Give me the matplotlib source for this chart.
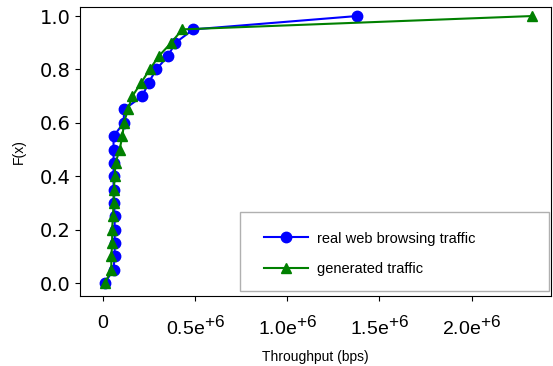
import matplotlib
matplotlib.use("Agg")
import matplotlib.pyplot as plt
from matplotlib.patches import Rectangle
import matplotlib._mathtext as mathtext_internals

# CDF levels
cdf = [0.0, 0.05, 0.10, 0.15, 0.20, 0.25, 0.30, 0.35, 0.40, 0.45, 0.50,
       0.55, 0.60, 0.65, 0.70, 0.75, 0.80, 0.85, 0.90, 0.95, 1.0]

# throughput values (bps)
real_tp = [0.009e6, 0.057e6, 0.063e6, 0.063e6, 0.063e6, 0.063e6, 0.059e6,
           0.057e6, 0.057e6, 0.057e6, 0.057e6, 0.057e6, 0.112e6, 0.114e6,
           0.213e6, 0.247e6, 0.289e6, 0.352e6, 0.393e6, 0.490e6, 1.378e6]
gen_tp = [0.012e6, 0.045e6, 0.045e6, 0.050e6, 0.049e6, 0.054e6, 0.057e6,
          0.059e6, 0.063e6, 0.068e6, 0.090e6, 0.105e6, 0.114e6, 0.135e6,
          0.159e6, 0.207e6, 0.253e6, 0.303e6, 0.370e6, 0.430e6, 2.33e6]

xticks = [0, 0.5e6, 1.0e6, 1.5e6, 2.0e6]
xtick_labels = ["0", r"0.5e$^{\mathrm{+6}}$", r"1.0e$^{\mathrm{+6}}$",
                r"1.5e$^{\mathrm{+6}}$", r"2.0e$^{\mathrm{+6}}$"]

# bigger superscripts, like the original
mathtext_internals.SHRINK_FACTOR = 0.88

plt.rcParams['mathtext.fontset'] = 'custom'
plt.rcParams['mathtext.rm'] = 'Liberation Sans'
plt.rcParams['mathtext.it'] = 'Liberation Sans:italic'

fig = plt.figure(figsize=(5.53, 3.66), dpi=100)
ax = fig.add_axes([0.145, 0.191, 0.851, 0.790])

ax.plot(real_tp, cdf, color='blue', marker='o', markersize=7.5, linewidth=1.5,
        label='real web browsing traffic')
ax.plot(gen_tp, cdf, color='green', marker='^', markersize=7.5, linewidth=1.5,
        label='generated traffic')

ax.set_xlim(-0.124e6, 2.43e6)
ax.set_ylim(-0.049, 1.034)
ax.set_xticks(xticks)
ax.set_xticklabels(xtick_labels, fontsize=14, family='Liberation Sans')
ax.set_yticks([0.0, 0.2, 0.4, 0.6, 0.8, 1.0])
ax.set_yticklabels(['0.0', '0.2', '0.4', '0.6', '0.8', '1.0'], fontsize=14)
ax.tick_params(axis='x', pad=10)

ax.set_xlabel('Throughput (bps)', fontsize=10, family='Liberation Sans', labelpad=8)
ax.set_ylabel('F(x)', fontsize=10, family='Liberation Sans', labelpad=10)

# legend box drawn separately so the entries can sit inside it like the original
frame = Rectangle((0.339, 0.017), 0.657, 0.273, transform=ax.transAxes,
                  facecolor='white', edgecolor='#b0b0b0', linewidth=1.0, zorder=4)
ax.add_patch(frame)
leg = ax.legend(loc='center left', bbox_to_anchor=(0.391, 0.147),
                borderaxespad=0, borderpad=0, frameon=False,
                labelspacing=1.1, handlelength=3.0, handletextpad=0.65,
                prop={'family': 'Liberation Sans', 'size': 10.5})
leg.set_zorder(5)

fig.savefig('out.png', dpi=100)
